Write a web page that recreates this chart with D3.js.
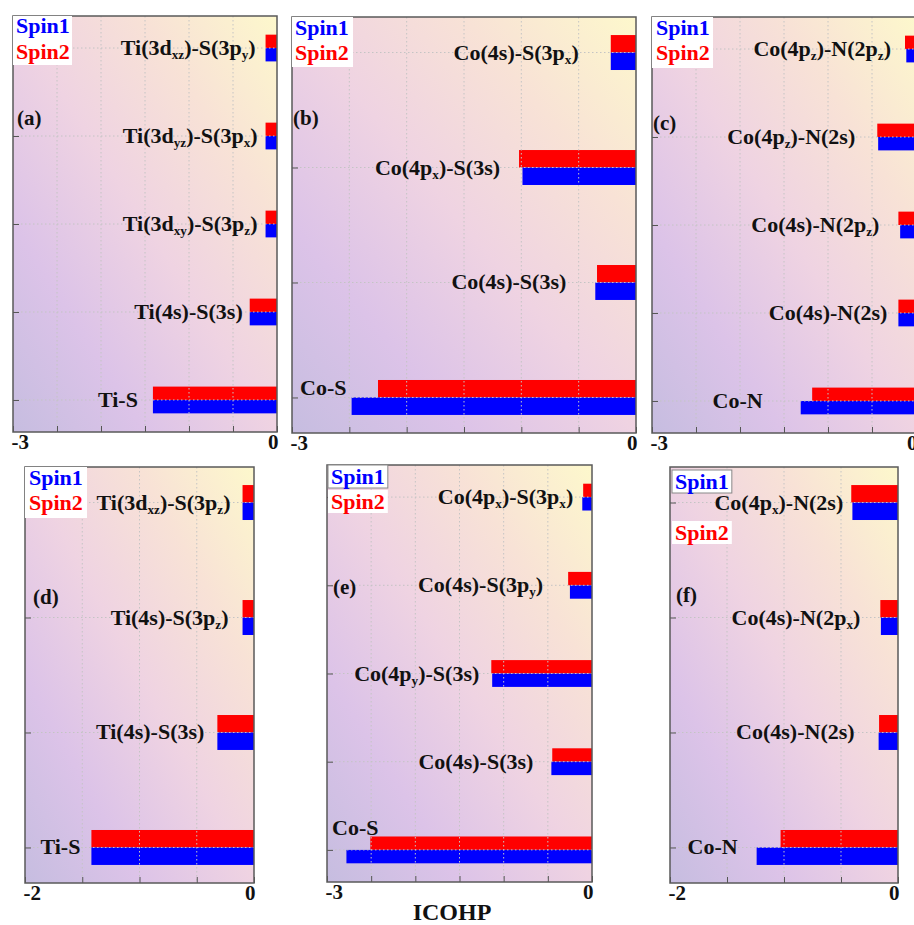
<!doctype html>
<html>
<head>
	<meta charset="utf-8">
	<script src="https://d3js.org/d3.v7.min.js"></script>
	<style>
		body { margin: 0; background: #fff; }
		svg { display: block; overflow: hidden; }
		text { font-family: "Liberation Serif", "Times New Roman", serif; font-weight: bold; }
	</style>
</head>
<body>
	<div id="viz">
		<svg style="width:914px;height:925px;"></svg>
	</div>
	<script>

		// series names (Spin1 = blue, Spin2 = red)
		var spinNames = ["Spin1", "Spin2"];

		// panel (a)
		var catsA  = ["Ti(3d{xz})-S(3p{y})", "Ti(3d{yz})-S(3p{x})", "Ti(3d{xy})-S(3p{z})", "Ti(4s)-S(3s)", "Ti-S"];
		var spin1A = [-0.13, -0.13, -0.13, -0.31, -1.41];
		var spin2A = [-0.13, -0.13, -0.13, -0.31, -1.41];

		// panel (b)
		var catsB  = ["Co(4s)-S(3p{x})", "Co(4p{x})-S(3s)", "Co(4s)-S(3s)", "Co-S"];
		var spin1B = [-0.22, -0.99, -0.355, -2.48];
		var spin2B = [-0.22, -1.02, -0.34, -2.25];

		// panel (c)
		var catsC  = ["Co(4p{z})-N(2p{z})", "Co(4p{z})-N(2s)", "Co(4s)-N(2p{z})", "Co(4s)-N(2s)", "Co-N"];
		var spin1C = [-0.11, -0.43, -0.18, -0.2, -1.31];
		var spin2C = [-0.125, -0.44, -0.2, -0.2, -1.18];

		// panel (d)
		var catsD  = ["Ti(3d{xz})-S(3p{z})", "Ti(4s)-S(3p{z})", "Ti(4s)-S(3s)", "Ti-S"];
		var spin1D = [-0.1, -0.1, -0.32, -1.42];
		var spin2D = [-0.1, -0.1, -0.32, -1.42];

		// panel (e)
		var catsE  = ["Co(4p{x})-S(3p{x})", "Co(4s)-S(3p{y})", "Co(4p{y})-S(3s)", "Co(4s)-S(3s)", "Co-S"];
		var spin1E = [-0.11, -0.25, -1.13, -0.46, -2.78];
		var spin2E = [-0.1, -0.27, -1.14, -0.45, -2.51];

		// panel (f)
		var catsF  = ["Co(4p{x})-N(2s)", "Co(4s)-N(2p{x})", "Co(4s)-N(2s)", "Co-N"];
		var spin1F = [-0.4, -0.15, -0.17, -1.24];
		var spin2F = [-0.41, -0.155, -0.166, -1.03];

		var xTitle = "ICOHP";

		// layout of each panel: frame box, label gaps, legend and letter spots
		var panels = [
			{ tag: "(a)", cats: catsA, s1: spin1A, s2: spin2A, xMin: -3, box: [13, 16, 277, 432],
			  gaps: [10, 8, 8, 7, 15], letter: [17, 125], legend: { x: 16, y1: 33, y2: 59, box: [13, 16, 59, 49], split: false } },
			{ tag: "(b)", cats: catsB, s1: spin1B, s2: spin2B, xMin: -3, box: [292, 17, 636, 433],
			  gaps: [32, 19, 29, { start: 8, dy: -2 }], letter: [293, 125], legend: { x: 295, y1: 35, y2: 60, box: [292, 17, 61, 50], split: false } },
			{ tag: "(c)", cats: catsC, s1: spin1C, s2: spin2C, xMin: -3, box: [652, 17, 916, 433],
			  gaps: [14, 22, 19, 11, 38], letter: [653, 130], legend: { x: 656, y1: 35, y2: 60, box: [652, 17, 61, 51], split: false } },
			{ tag: "(d)", cats: catsD, s1: spin1D, s2: spin2D, xMin: -2, box: [25, 467, 254, 883],
			  gaps: [12, 14, 13, 11], letter: [33, 604], legend: { x: 29, y1: 485, y2: 510, box: [25, 467, 62, 51], split: false } },
			{ tag: "(e)", cats: catsE, s1: spin1E, s2: spin2E, xMin: -3, box: [327, 465, 592, 882],
			  gaps: [9, 25, 12, 18, { start: 5, dy: -15 }], letter: [333, 594], legend: { x: 331, y1: 484, y2: 509, split: true } },
			{ tag: "(f)", cats: catsF, s1: spin1F, s2: spin2F, xMin: -2, box: [670, 467, 898, 883],
			  gaps: [8, 20, 24, 19], letter: [676, 602], legend: { x: 675, y1: 489, y2: 540, split: true } }
		];

		var svg = d3.select("svg");

		var grad = svg.append("defs").append("linearGradient")
			.attr("id", "bg")
			.attr("x1", 0).attr("y1", 1).attr("x2", 1).attr("y2", 0);
		[[0, "#c6bde0"], [0.25, "#dcc3e8"], [0.5, "#efd3e2"], [0.75, "#f8e2d6"], [1, "#fdf8cc"]].forEach(function(s) {
			grad.append("stop").attr("offset", s[0]).attr("stop-color", s[1]);
		});

		// write "A{sub}B" as text with subscript tspans
		function richText(sel, str) {
			var parts = str.split(/(\{[^}]*\})/);
			var inSub = false;
			parts.forEach(function(p) {
				if (!p) return;
				if (p[0] == "{") {
					sel.append("tspan").attr("font-size", "0.6em").attr("dy", 4).text(p.slice(1, -1));
					inSub = true;
				} else {
					sel.append("tspan").attr("dy", inSub ? -4 : 0).text(p);
					inSub = false;
				}
			});
		}

		panels.forEach(function(p) {
			var left = p.box[0], top = p.box[1], right = p.box[2], bottom = p.box[3];
			var g = svg.append("g");

			var x = d3.scaleLinear().domain([p.xMin, 0]).range([left, right]);
			var pad = p.cats.length == 5 ? 0.364 : 0.309;
			var y = d3.scalePoint().domain(p.cats).range([top, bottom]).padding(pad);
			var bh = y.step() * 0.152;

			g.append("rect")
				.attr("x", left).attr("y", top)
				.attr("width", right - left).attr("height", bottom - top)
				.attr("fill", "url(#bg)");

			var rows = p.cats.map(function(c, i) { return { cat: c, s1: p.s1[i], s2: p.s2[i], gap: p.gaps[i] }; });

			// Spin2 (red) above the line, Spin1 (blue) below
			g.selectAll(".red").data(rows).enter().append("rect")
				.attr("x", d => x(d.s2))
				.attr("y", d => y(d.cat) - bh)
				.attr("width", d => x(0) - x(d.s2))
				.attr("height", bh)
				.attr("fill", "#ff0000");
			g.selectAll(".blue").data(rows).enter().append("rect")
				.attr("x", d => x(d.s1))
				.attr("y", d => y(d.cat))
				.attr("width", d => x(0) - x(d.s1))
				.attr("height", bh)
				.attr("fill", "#0000ff");

			// dotted grid on top of bars
			var xt = d3.range(p.xMin + 0.5, 0, 0.5);
			g.selectAll(".vg").data(xt).enter().append("line")
				.attr("x1", d => x(d)).attr("x2", d => x(d))
				.attr("y1", top).attr("y2", bottom)
				.attr("stroke", "#c4c4c4").attr("stroke-dasharray", "1.5,2.5");
			g.selectAll(".hg").data(p.cats).enter().append("line")
				.attr("x1", left).attr("x2", right)
				.attr("y1", d => y(d)).attr("y2", d => y(d))
				.attr("stroke", "#c4c4c4").attr("stroke-dasharray", "1.5,2.5");

			// axes with inward ticks
			var xAxis = d3.axisBottom(x)
				.tickValues(d3.range(p.xMin, 0.001, 0.5))
				.tickSize(-6)
				.tickPadding(4)
				.tickFormat(d => (d == p.xMin || d == 0) ? String(d) : "");
			var xg = g.append("g")
				.attr("transform", "translate(0," + bottom + ")")
				.call(xAxis);
			xg.select(".domain").remove();
			xg.selectAll("line").attr("stroke", "#555");
			xg.selectAll("text")
				.attr("font-size", 21)
				.attr("font-family", "Liberation Serif, serif")
				.attr("fill", "#111")
				.attr("text-anchor", d => d == p.xMin ? "start" : "end")
				.attr("dx", d => d == p.xMin ? -2 : 1)
				.attr("y", 0)
				.attr("dy", 17);

			var yAxis = d3.axisLeft(y).tickSize(-6).tickFormat("");
			var yg = g.append("g")
				.attr("transform", "translate(" + left + ",0)")
				.call(yAxis);
			yg.select(".domain").remove();
			yg.selectAll("line").attr("stroke", "#555");

			g.append("rect")
				.attr("x", left).attr("y", top)
				.attr("width", right - left).attr("height", bottom - top)
				.attr("fill", "none").attr("stroke", "#5a5a5a").attr("stroke-width", 1.5);

			// bond labels
			rows.forEach(function(d) {
				var t = g.append("text").attr("font-size", 22).attr("fill", "#111");
				if (typeof d.gap == "number") {
					t.attr("text-anchor", "end")
						.attr("x", x(Math.min(d.s1, d.s2)) - d.gap)
						.attr("y", y(d.cat) + 7);
				} else {
					t.attr("text-anchor", "start")
						.attr("x", left + d.gap.start)
						.attr("y", y(d.cat) + d.gap.dy);
				}
				richText(t, d.cat);
			});

			// panel letter
			g.append("text")
				.attr("x", p.letter[0]).attr("y", p.letter[1])
				.attr("font-size", 21).attr("fill", "#111")
				.text(p.tag);

			// legend
			var L = p.legend;
			if (!L.split) {
				g.append("rect")
					.attr("x", L.box[0]).attr("y", L.box[1])
					.attr("width", L.box[2]).attr("height", L.box[3])
					.attr("fill", "#fff");
			}
			var cols = ["#0000ff", "#ff0000"];
			[L.y1, L.y2].forEach(function(yy, i) {
				var t = g.append("text")
					.attr("x", L.x).attr("y", yy)
					.attr("font-size", 22)
					.attr("fill", cols[i])
					.text(spinNames[i]);
				if (L.split) {
					var bb = t.node().getBBox();
					g.insert("rect", function() { return t.node(); })
						.attr("x", bb.x - 3).attr("y", bb.y + 1)
						.attr("width", bb.width + 6).attr("height", bb.height - 2)
						.attr("fill", "#fff")
						.attr("stroke", i == 0 ? "#888" : "none");
				}
			});
		});

		svg.append("text")
			.attr("x", 452).attr("y", 920)
			.attr("text-anchor", "middle")
			.attr("font-size", 24)
			.attr("fill", "#111")
			.text(xTitle);

	</script>
</body>
</html>
